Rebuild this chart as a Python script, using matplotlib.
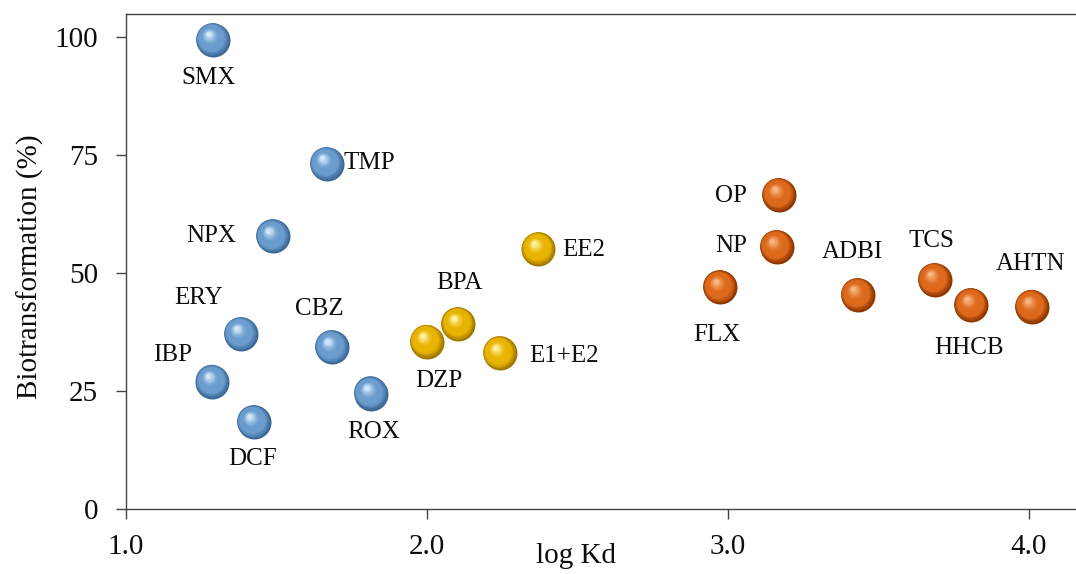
import numpy as np
import matplotlib
matplotlib.use("Agg")
import matplotlib.pyplot as plt
from matplotlib import transforms
from matplotlib.colors import to_rgb

plt.rcParams['font.family'] = ['Liberation Serif', 'DejaVu Serif']

# data (log Kd, biotransformation %)
blue_names = ['SMX', 'TMP', 'NPX', 'ERY', 'CBZ', 'IBP', 'DCF', 'ROX']
blue_x = [1.286, 1.664, 1.485, 1.379, 1.681, 1.285, 1.422, 1.811]
blue_y = [99.6, 73.3, 57.9, 37.2, 34.4, 27.1, 18.5, 24.6]

yellow_names = ['EE2', 'BPA', 'DZP', 'E1+E2']
yellow_x = [2.368, 2.101, 1.997, 2.239]
yellow_y = [55.2, 39.3, 35.6, 33.1]

orange_names = ['OP', 'NP', 'FLX', 'ADBI', 'TCS', 'HHCB', 'AHTN']
orange_x = [3.167, 3.159, 2.971, 3.428, 3.684, 3.806, 4.007]
orange_y = [66.7, 55.7, 47.1, 45.5, 48.7, 43.4, 43.0]

xticks = [1.0, 2.0, 3.0, 4.0]
yticks = [0, 25, 50, 75, 100]

# label placement: (dx px, dy px, ha)
label_pos = {
    'SMX': (-4, -39, 'center'), 'TMP': (18, 0, 'left'), 'NPX': (-36, 0, 'right'),
    'ERY': (-41, 35, 'center'), 'CBZ': (-12, 37, 'center'), 'IBP': (-39, 26, 'center'),
    'DCF': (0, -38, 'center'), 'ROX': (3, -39, 'center'),
    'EE2': (24, -2, 'left'), 'BPA': (2, 40, 'center'), 'DZP': (13, -40, 'center'),
    'E1+E2': (30, -3, 'left'),
    'OP': (-31, -2, 'right'), 'NP': (-29, 0, 'right'), 'FLX': (-2, -48, 'center'),
    'ADBI': (-4, 42, 'center'), 'TCS': (-2, 38, 'center'), 'HHCB': (-2, -44, 'center'),
    'AHTN': (-1, 42, 'center'),
}

DPI = 100
fig = plt.figure(figsize=(10.76, 5.74), dpi=DPI)
ax = fig.add_axes([126 / 1076, 1 - 508.7 / 574, 1 - 126 / 1076, (508.7 - 14) / 574])


def mix(c1, c2, t):
    a, b = np.array(to_rgb(c1)), np.array(to_rgb(c2))
    return tuple(a + (b - a) * t)


def spheres(x, y, edge, mid, light, diam_px=34, n=24):
    r_pt = diam_px / 2 * 72 / DPI
    # darker rim, shifted down-right a little so the bottom looks shaded
    shade = transforms.offset_copy(ax.transData, fig=fig, x=0.04 * r_pt, y=-0.05 * r_pt,
                                   units='points')
    ax.scatter(x, y, s=(2 * r_pt) ** 2, color=edge, linewidths=0, zorder=3, transform=shade)
    for i in range(1, n):
        t = i / (n - 1)
        rad = r_pt * (1 - 0.88 * t)
        if t < 0.25:
            col = mix(edge, mid, t / 0.25)
        elif t < 0.55:
            col = to_rgb(mid)
        else:
            col = mix(mid, light, ((t - 0.55) / 0.45) ** 1.3)
        off = transforms.offset_copy(ax.transData, fig=fig,
                                     x=-0.22 * r_pt * t, y=0.30 * r_pt * t, units='points')
        ax.scatter(x, y, s=(2 * rad) ** 2, color=col, linewidths=0,
                   transform=off, zorder=3 + i * 0.01)


def labels(names, x, y):
    for nm, xi, yi in zip(names, x, y):
        dx, dy, ha = label_pos[nm]
        ax.annotate(nm, (xi, yi), xytext=(dx * 0.72, dy * 0.72), textcoords='offset points',
                    ha=ha, va='center', fontsize=18, color='#0d0d0d', zorder=5)


spheres(blue_x, blue_y, '#3c6896', '#6a9ccd', '#d2e8fb')
spheres(yellow_x, yellow_y, '#a07800', '#e8b400', '#fff3a0')
spheres(orange_x, orange_y, '#8e3600', '#dd6a1c', '#f9b682')
labels(blue_names, blue_x, blue_y)
labels(yellow_names, yellow_x, yellow_y)
labels(orange_names, orange_x, orange_y)

ax.set_xlim(1.0, 4.156)
ax.set_ylim(0, 104.9)
ax.set_xticks(xticks)
ax.set_xticklabels([f'{v:.1f}' for v in xticks])
ax.set_yticks(yticks)

for side in ['left', 'bottom', 'top']:
    ax.spines[side].set_color('#444444')
    ax.spines[side].set_linewidth(1.0)
ax.spines['right'].set_visible(False)

ax.tick_params(direction='out', length=7, width=1.0, color='#444444',
               labelsize=21, labelcolor='#0d0d0d')
ax.tick_params(axis='x', pad=11)
ax.tick_params(axis='y', pad=13)

ax.set_xlabel('log Kd', fontsize=21, color='#0d0d0d', va='top')
ax.xaxis.set_label_coords(0.4737, -0.070)
ax.set_ylabel('Biotransformation (%)', fontsize=21, color='#0d0d0d', va='center')
ax.yaxis.set_label_coords(-0.101, 0.4886)

fig.savefig('out.png', dpi=DPI)
